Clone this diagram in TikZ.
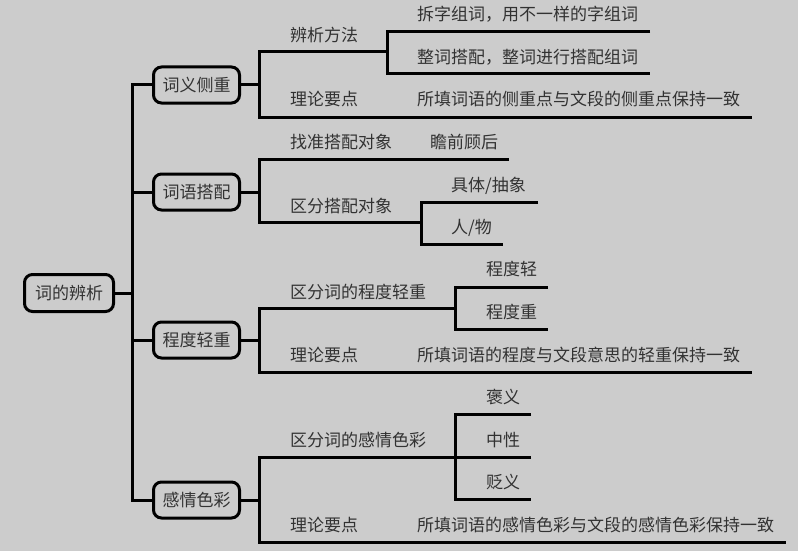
\documentclass[tikz,border=0pt]{standalone}
\usepackage{fontspec}
\newfontfamily\cjk{Noto Sans CJK SC}
\definecolor{bg}{RGB}{204,204,204}
\definecolor{txt}{RGB}{50,50,50}
\begin{document}
\begin{tikzpicture}[x=1pt,y=-1pt,
  every node/.style={font=\cjk\fontsize{17}{17}\selectfont, text=txt},
  lbl/.style={anchor=west, inner sep=0pt, text height=1.16em, text depth=0em},
  topic/.style={draw=black, line width=3pt, rounded corners=8pt, fill=bg,
    minimum width=86pt, minimum height=36pt, inner sep=0pt},
  conn/.style={draw=black, line width=3pt}]
\fill[bg] (0,0) rectangle (798,551);
\useasboundingbox (0,0) rectangle (798,551);

% boxes
\node[topic, minimum width=89pt, minimum height=37pt] (root) at (69,293) {词的辨析};
\node[topic] (b1) at (196.5,85) {词义侧重};
\node[topic] (b2) at (196.5,192) {词语搭配};
\node[topic] (b3) at (196.5,340) {程度轻重};
\node[topic] (b4) at (196.5,500) {感情色彩};

% main trunk
\coordinate (m0) at (132,293);
\coordinate (m1) at (132,85);
\coordinate (m2) at (132,192);
\coordinate (m3) at (132,340);
\coordinate (m4) at (132,500);
\path[conn] (root.east) -- (m0);
\path[conn] (b1.west) -- (m1) -- (m4) -- (b4.west);
\path[conn] (m2) -- (b2.west);
\path[conn] (m3) -- (b3.west);

% group 1
\coordinate (g1c) at (259,85);
\coordinate (g1t) at (259,52);
\coordinate (g1b) at (259,117);
\coordinate (g1te) at (387,52);
\coordinate (g1be) at (752,117);
\coordinate (s1t) at (387,32);
\coordinate (s1b) at (387,74);
\coordinate (s1te) at (650,32);
\coordinate (s1be) at (650,74);
\path[conn] (b1.east) -- (g1c);
\path[conn] (g1te) -- (g1t) -- (g1b) -- (g1be);
\path[conn] (s1te) -- (s1t) -- (s1b) -- (s1be);

% group 2
\coordinate (g2c) at (259,192);
\coordinate (g2t) at (259,159);
\coordinate (g2b) at (259,222);
\coordinate (g2te) at (509,159);
\coordinate (g2be) at (421,222);
\coordinate (s2t) at (421,202);
\coordinate (s2b) at (421,244);
\coordinate (s2te) at (538,202);
\coordinate (s2be) at (503,244);
\path[conn] (b2.east) -- (g2c);
\path[conn] (g2te) -- (g2t) -- (g2b) -- (g2be);
\path[conn] (s2te) -- (s2t) -- (s2b) -- (s2be);

% group 3
\coordinate (g3c) at (259,340);
\coordinate (g3t) at (259,308);
\coordinate (g3b) at (259,372);
\coordinate (g3te) at (455,308);
\coordinate (g3be) at (752,372);
\coordinate (s3t) at (455,287);
\coordinate (s3b) at (455,329);
\coordinate (s3te) at (548,287);
\coordinate (s3be) at (548,329);
\path[conn] (b3.east) -- (g3c);
\path[conn] (g3te) -- (g3t) -- (g3b) -- (g3be);
\path[conn] (s3te) -- (s3t) -- (s3b) -- (s3be);

% group 4
\coordinate (g4c) at (259,500);
\coordinate (g4t) at (259,457);
\coordinate (g4b) at (259,542);
\coordinate (g4te) at (531,457);
\coordinate (g4be) at (786,542);
\coordinate (s4t) at (455,414);
\coordinate (s4b) at (455,499);
\coordinate (s4te) at (531,414);
\coordinate (s4be) at (531,499);
\path[conn] (b4.east) -- (g4c);
\path[conn] (g4te) -- (g4t) -- (g4b) -- (g4be);
\path[conn] (s4te) -- (s4t) -- (s4b) -- (s4be);

% labels
\node[lbl] (t11) at (290,36) {辨析方法};
\node[lbl] (t12) at (290,100) {理论要点};
\node[lbl] (t111) at (417,15) {拆字组词，用不一样的字组词};
\node[lbl] (t112) at (417,58) {整词搭配，整词进行搭配组词};
\node[lbl] (t121) at (417,100) {所填词语的侧重点与文段的侧重点保持一致};
\node[lbl] (t21) at (290,143) {找准搭配对象};
\node[lbl] (t211) at (430,143) {瞻前顾后};
\node[lbl] (t22) at (290,207) {区分搭配对象};
\node[lbl] (t221) at (451,186) {具体/抽象};
\node[lbl] (t222) at (451,228) {人/物};
\node[lbl] (t31) at (290,293) {区分词的程度轻重};
\node[lbl] (t311) at (486,270) {程度轻};
\node[lbl] (t312) at (486,313) {程度重};
\node[lbl] (t32) at (290,356) {理论要点};
\node[lbl] (t321) at (417,356) {所填词语的程度与文段意思的轻重保持一致};
\node[lbl] (t41) at (290,441) {区分词的感情色彩};
\node[lbl] (t411) at (486,398) {褒义};
\node[lbl] (t412) at (486,441) {中性};
\node[lbl] (t413) at (486,483) {贬义};
\node[lbl] (t42) at (290,526) {理论要点};
\node[lbl] (t421) at (417,526) {所填词语的感情色彩与文段的感情色彩保持一致};
\end{tikzpicture}
\end{document}
